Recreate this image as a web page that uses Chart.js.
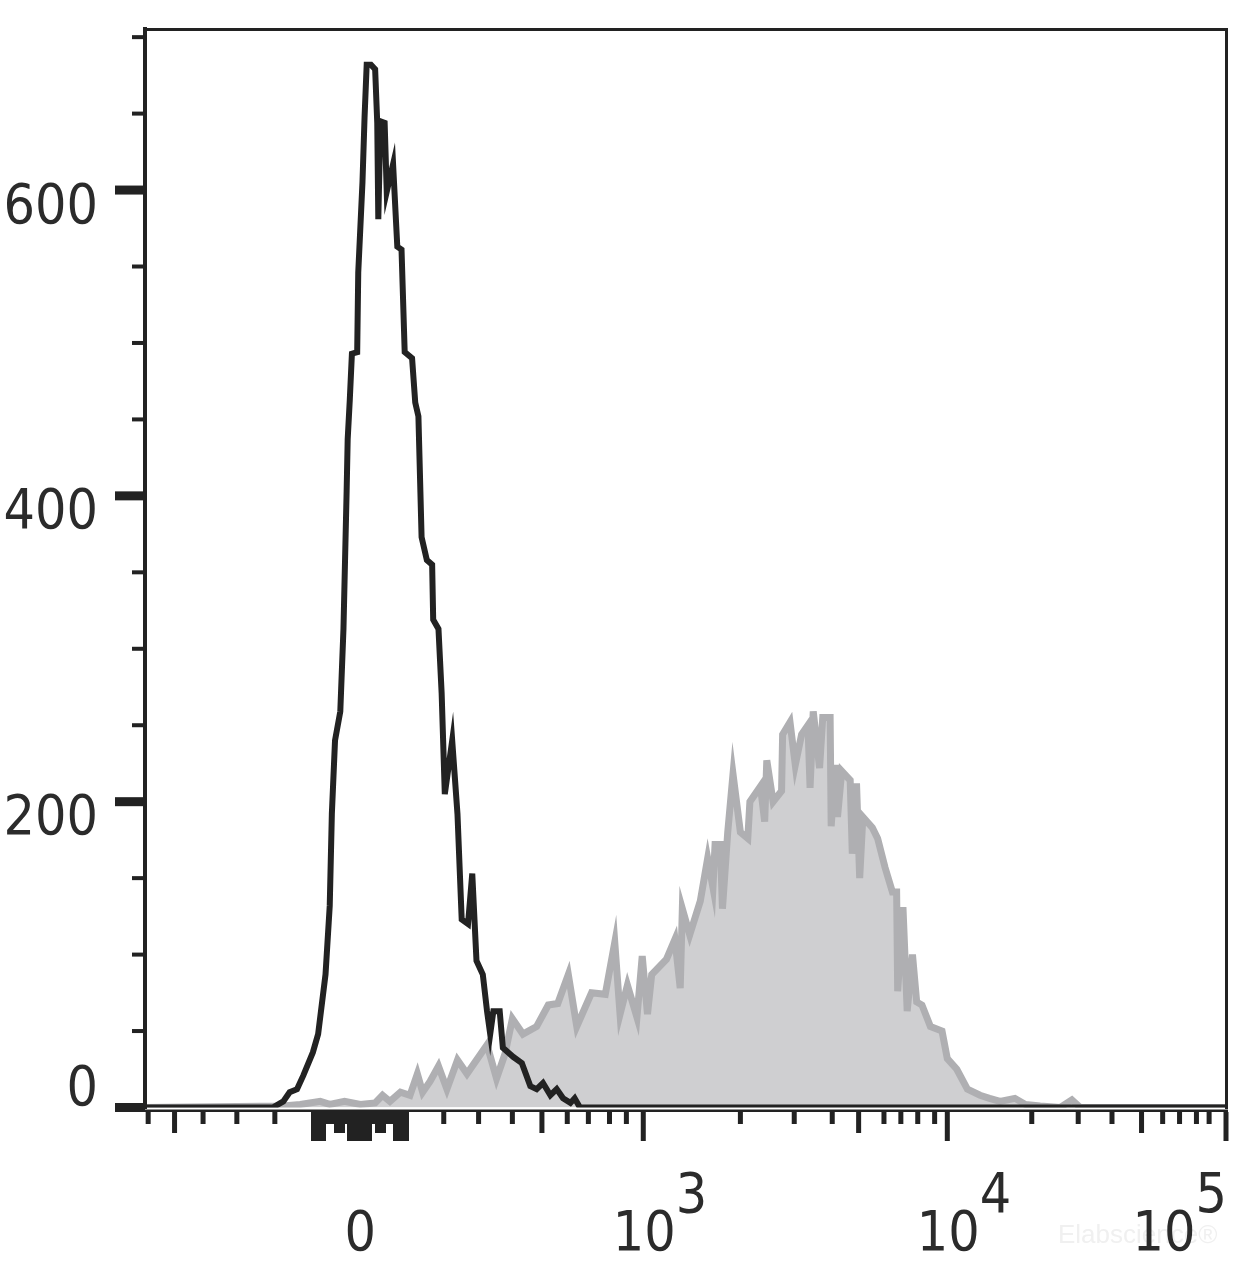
<!DOCTYPE html>
<html>
<head>
<meta charset="utf-8">
<script src="https://cdn.jsdelivr.net/npm/chart.js@4.4.1/dist/chart.umd.min.js"></script>
<style>
  html, body { margin: 0; padding: 0; background: #fff; }
  #wrap { width: 1256px; height: 1275px; }
</style>
</head>
<body>
<div id="wrap"><canvas id="histChart" width="1256" height="1275"></canvas></div>
<script>
'use strict';

// x values are display channels (0 - 1024) of the biexponential axis
const blackChannels = [0, 121, 131, 137, 144, 150, 159, 164, 171, 175,
    177, 180, 185, 188, 191, 192, 194, 196, 201, 202,
    206, 208, 210, 214, 218, 220, 221, 223, 227, 229,
    235, 239, 243, 246, 253, 256, 259, 262, 267, 272,
    273, 278, 281, 284, 291, 296, 300, 306, 310, 314,
    320, 324, 327, 330, 336, 339, 349, 357, 365, 371,
    377, 384, 390, 396, 403, 407, 412, 1024];
const blackCounts = [0, 0, 4, 10, 12, 21, 36, 48, 87, 132,
    192, 240, 259, 313, 403, 437, 463, 493, 494, 546,
    605, 648, 682, 682, 679, 644, 581, 645, 644, 599,
    617, 563, 561, 494, 490, 461, 452, 373, 358, 355,
    319, 313, 271, 205, 240, 192, 123, 120, 153, 96,
    87, 63, 48, 63, 63, 39, 33, 29, 14, 12,
    16, 8, 12, 6, 3, 6, 0, 0];

const grayChannels = [0, 131, 147, 166, 175, 189, 204, 218, 225, 232,
    242, 251, 258, 263, 270, 278, 286, 296, 305, 317,
    324, 333, 341, 348, 358, 371, 382, 391, 401, 409,
    423, 436, 445, 450, 457, 466, 471, 476, 480, 494,
    502, 507, 509, 516, 526, 533, 538, 540, 545, 547,
    552, 557, 564, 571, 573, 583, 587, 589, 595, 603,
    604, 611, 616, 622, 628, 630, 633, 639, 642, 649,
    650, 654, 656, 660, 668, 670, 674, 677, 680, 689,
    694, 701, 708, 712, 713, 718, 722, 727, 731, 736,
    744, 755, 760, 769, 779, 791, 800, 810, 824, 834,
    848, 867, 878, 886, 1024];
const grayCounts = [0, 1, 2, 4, 2, 4, 2, 3, 8, 4,
    10, 8, 22, 10, 17, 27, 12, 31, 22, 34,
    41, 19, 35, 58, 48, 53, 67, 68, 87, 53,
    75, 74, 108, 61, 80, 59, 99, 61, 87, 97,
    110, 78, 130, 113, 135, 163, 144, 172, 172, 130,
    180, 218, 180, 176, 200, 210, 187, 227, 200, 207,
    244, 252, 224, 244, 250, 209, 259, 222, 255, 255,
    184, 224, 190, 220, 214, 166, 212, 150, 190, 183,
    176, 157, 141, 141, 76, 131, 63, 100, 69, 67,
    53, 50, 32, 25, 12, 8, 6, 4, 6, 2,
    1, 0, 5, 0, 0];

const yMajorTicks = [0, 200, 400, 600];
const yMinorTicks = [50, 100, 150, 250, 300, 350, 450, 500, 550, 650, 700];

// decades: 0, 10^3, 10^4, 10^5
const decadeChannels = [203, 472, 760, 1024];
const decadeBase = ['0', '10', '10', '10'];
const decadeExp = ['', '3', '4', '5'];
const mediumTickChannels = [28, 376, 676, 944];
const minorTickChannels = [3, 55, 87, 123, 283, 316, 348, 400, 420, 440, 456,
    564, 615, 651, 700, 716, 732, 748, 840, 884, 916, 964, 980, 996, 1008];
// linear part of the axis around zero, ticks every 10
const linearTickValues = [-100, -90, -80, -70, -60, -50, -40, -30, -20, -10, 0,
    10, 20, 30, 40, 50, 60, 70, 80, 90, 100];
const linearTickKinds = ['L', 'L', 'L', 's', 's', 'm', 'm', 's', 'L', 'L', 'L',
    'L', 'L', 's', 'm', 'm', 's', 's', 'L', 'L', 'L'];
const channelsPerUnit = 0.4357;

const labelFont = '55px "DejaVu Sans Condensed", "DejaVu Sans", sans-serif';

function toPoints(xs, ys) {
    return xs.map((x, i) => ({ x: x, y: ys[i] }));
}

function linearChannel(v) {
    return decadeChannels[0] + v * channelsPerUnit;
}

const axisFrame = {
    id: 'axisFrame',
    afterDatasetsDraw(chart) {
        const { ctx, chartArea: a } = chart;
        const x = chart.scales.x;
        const y = chart.scales.y;
        const y0 = y.getPixelForValue(0);
        const tickTop = y0 + 4.5;
        const len = { s: 12, m: 21, L: 29 };

        ctx.save();
        ctx.fillStyle = '#222222';

        // box
        ctx.fillRect(a.left - 2, a.top - 2.5, 4, y0 - a.top + 4);
        ctx.fillRect(a.left, a.top - 1.5, a.right - a.left + 2, 3);
        ctx.fillRect(a.right - 1, a.top - 1.5, 3, y0 - a.top + 3);
        ctx.fillRect(a.left, y0 + 2, a.right - a.left + 2, 2.5);

        // y ticks
        yMajorTicks.forEach(v => {
            const py = y.getPixelForValue(v);
            ctx.fillRect(a.left - 30, py - 4.5, 30, 9);
        });
        yMinorTicks.forEach(v => {
            const py = y.getPixelForValue(v);
            ctx.fillRect(a.left - 13, py - 2, 13, 4);
        });

        // x ticks
        minorTickChannels.forEach(c => {
            const px = x.getPixelForValue(c);
            ctx.fillRect(px - 2.5, tickTop, 5, len.s);
        });
        mediumTickChannels.forEach(c => {
            const px = x.getPixelForValue(c);
            ctx.fillRect(px - 2.5, tickTop, 5, len.m);
        });
        decadeChannels.forEach(c => {
            const px = x.getPixelForValue(c);
            ctx.fillRect(px - 2.5, tickTop, 5, len.L);
        });
        linearTickValues.forEach((v, i) => {
            const p1 = Math.floor(x.getPixelForValue(linearChannel(v - 5)));
            const p2 = Math.ceil(x.getPixelForValue(linearChannel(v + 5)));
            ctx.fillRect(p1, tickTop, p2 - p1 + 1, len[linearTickKinds[i]]);
        });

        // watermark
        ctx.font = '26px "Liberation Sans"';
        ctx.fillStyle = '#f0f0f0';
        ctx.textAlign = 'left';
        ctx.textBaseline = 'alphabetic';
        ctx.fillText('Elabscience\u00ae', 1058, 1243);

        // labels
        ctx.fillStyle = '#2b2b2b';
        ctx.font = labelFont;
        ctx.textAlign = 'right';
        yMajorTicks.forEach(v => {
            const py = y.getPixelForValue(v);
            ctx.fillText(String(v), 98, v === 0 ? py - 2.5 : py + 32.5);
        });

        const baseLine = 1250;
        decadeChannels.forEach((c, i) => {
            const px = x.getPixelForValue(c);
            const base = decadeBase[i];
            const sup = decadeExp[i];
            ctx.textAlign = 'left';
            const bw = ctx.measureText(base).width;
            const sw = ctx.measureText(sup).width;
            let left = px - bw / 2 + 1;
            if (i === decadeChannels.length - 1) {
                left = a.right - (bw + sw) + 1;
            }
            ctx.fillText(base, left, baseLine);
            if (sup) {
                ctx.fillText(sup, left + bw, baseLine - 38);
            }
        });

        ctx.restore();
    }
};

const ctx = document.getElementById('histChart').getContext('2d');

new Chart(ctx, {
    type: 'line',
    data: {
        datasets: [
            {
                label: 'control',
                data: toPoints(blackChannels, blackCounts),
                borderColor: '#222222',
                borderWidth: 6,
                pointRadius: 0,
                fill: false,
                tension: 0,
            },
            {
                label: 'stained',
                data: toPoints(grayChannels, grayCounts),
                borderColor: '#afafb2',
                backgroundColor: '#cfcfd1',
                borderWidth: 7,
                pointRadius: 0,
                fill: 'origin',
                tension: 0,
            },
        ]
    },
    options: {
        responsive: false,
        animation: false,
        events: [],
        layout: {
            padding: { left: 145, right: 30, top: 29.5, bottom: 167.5 }
        },
        scales: {
            x: { type: 'linear', min: 0, max: 1024, display: false },
            y: { min: 0, max: 705, display: false }
        },
        plugins: {
            legend: { display: false },
            tooltip: { enabled: false }
        }
    },
    plugins: [axisFrame]
});
</script>
</body>
</html>
